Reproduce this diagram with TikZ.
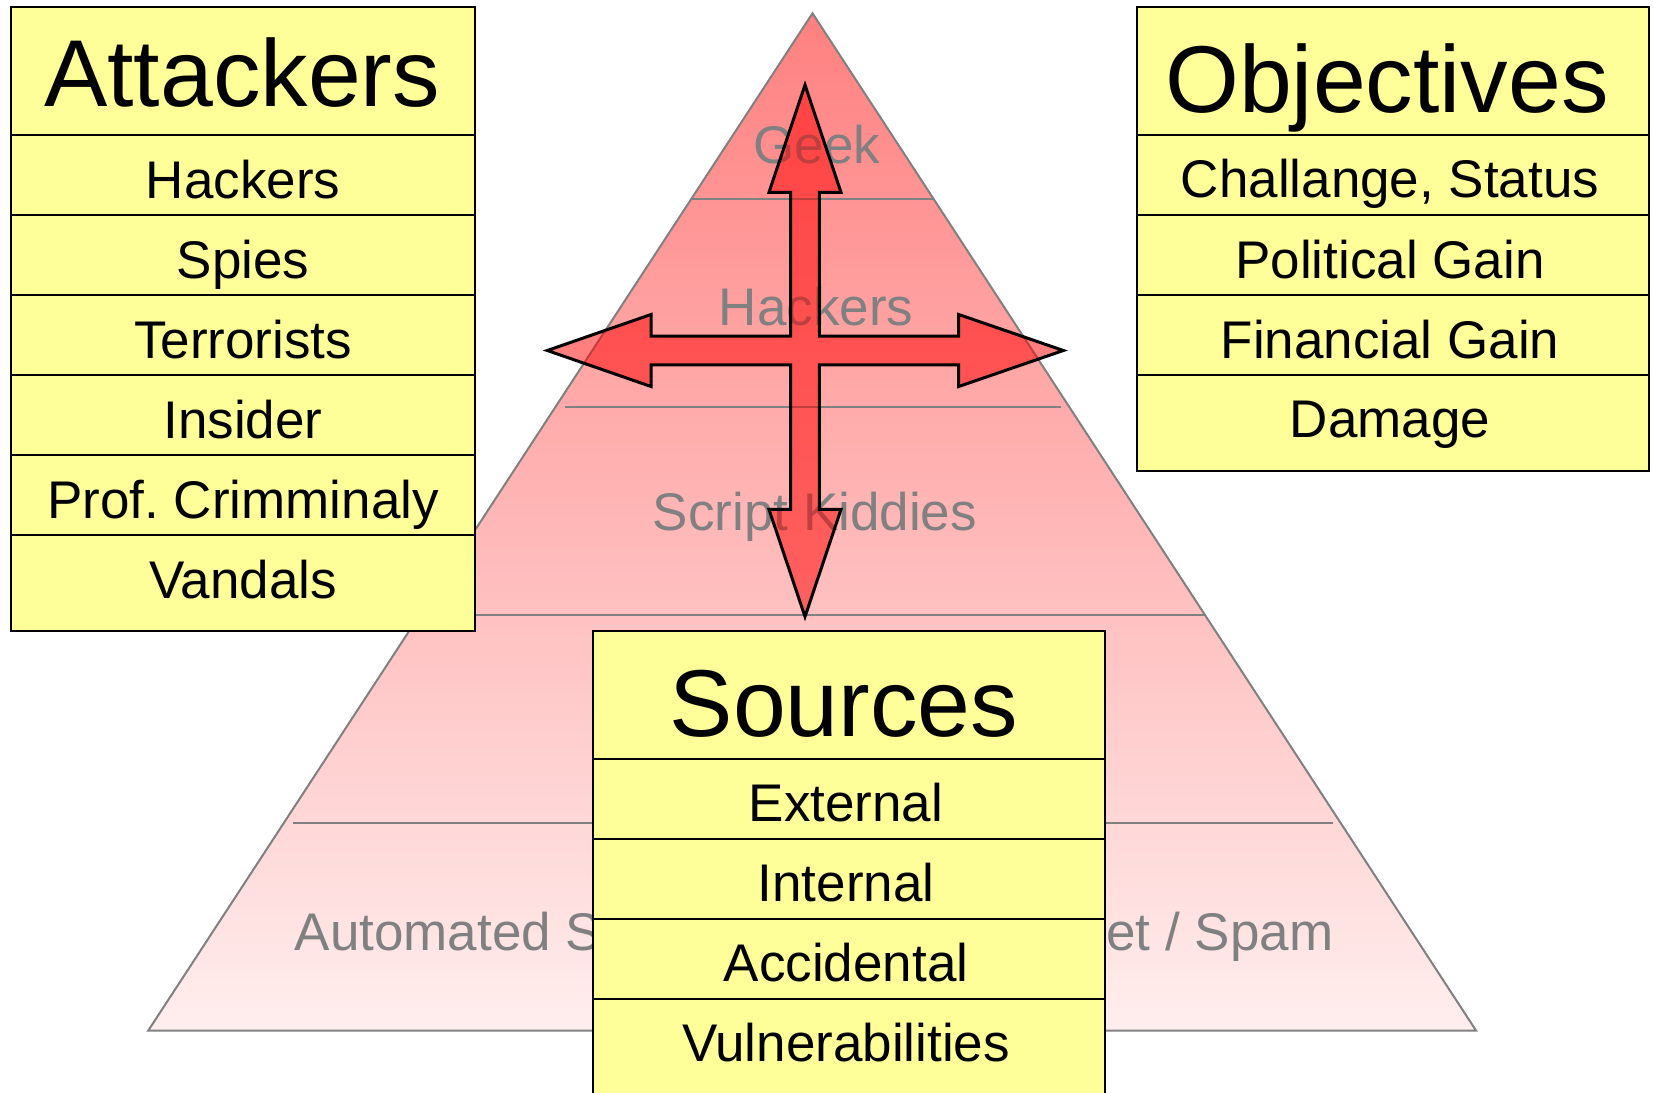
\documentclass[tikz,border=0pt]{standalone}
\usepackage{fontspec}
\setmainfont{Liberation Sans}
\frenchspacing
\definecolor{boxyellow}{RGB}{255,255,153}
\definecolor{pyrgray}{RGB}{128,128,128}
\definecolor{pyrtop}{RGB}{255,128,128}
\definecolor{pyrbot}{RGB}{255,238,238}
\tikzset{
  tablebox/.style={fill=boxyellow, draw=black, line width=1pt},
  rowline/.style={draw=black, line width=1pt},
  titletext/.style={font=\fontsize{47.5pt}{50pt}\selectfont, anchor=base, inner sep=0pt},
  itemtext/.style={font=\fontsize{26.5pt}{30pt}\selectfont, anchor=base, inner sep=0pt},
  leveltext/.style={itemtext, text=pyrgray},
  levelline/.style={draw=pyrgray, line width=1pt},
  crossarrow/.style={fill=red, fill opacity=0.5, draw=black, line width=1.5pt, line join=miter},
}
\begin{document}
\begin{tikzpicture}[x=0.5pt, y=-0.5pt]
\clip (0,0) rectangle (1653,1092);
\fill[white] (0,0) rectangle (1653,1092);

% pyramid
\shade[top color=pyrtop, bottom color=pyrbot, draw=pyrgray, line width=1pt]
  (812.5,13.3) -- (1476,1030.5) -- (148.3,1030.5) -- cycle;
\draw[levelline] (691.5,199) -- (933.5,199);
\draw[levelline] (565,406.7) -- (1061,406.7);
\draw[levelline] (425,614.5) -- (1204.5,614.5);
\draw[levelline] (293,822.7) -- (1332.5,822.7);

\node[leveltext] (lgeek) at (817,163.3) {Geek};
\node[leveltext] (lhack) at (816,325.3) {Hackers};
\node[leveltext] (lscript) at (815,530) {Script Kiddies};
\node[leveltext, anchor=base west] (lautoA) at (294.3,950) {Automated S};
\node[leveltext, anchor=base east] (lautoB) at (1333.6,950) {et / Spam};

% four-way arrow
\filldraw[crossarrow]
  (805,85) -- (841,192.3) -- (819.4,192.3) -- (819.4,336.1)
  -- (958.7,336.1) -- (958.7,314.5) -- (1063.3,350.5) -- (958.7,386.5) -- (958.7,364.9)
  -- (819.4,364.9) -- (819.4,509.4) -- (841,509.4) -- (805,616.7) -- (769,509.4) -- (790.6,509.4)
  -- (790.6,364.9) -- (651,364.9) -- (651,386.5) -- (547.3,350.5) -- (651,314.5) -- (651,336.1)
  -- (790.6,336.1) -- (790.6,192.3) -- (769,192.3) -- cycle;

% Attackers table
\draw[tablebox] (11,7) rectangle (475,630.7);
\foreach \yy in {135,215,295,375,454.5,535} {\draw[rowline] (11,\yy) -- (475,\yy);}
\node[titletext] (atitle) at (242,106) {Attackers};
\node[itemtext] (a1) at (243,198.5) {Hackers};
\node[itemtext] (a2) at (243,278.5) {Spies};
\node[itemtext] (a3) at (243,358.5) {Terrorists};
\node[itemtext] (a4) at (243,438.5) {Insider};
\node[itemtext] (a5) at (243,518.3) {Prof. Crimminaly};
\node[itemtext] (a6) at (243,598.5) {Vandals};

% Objectives table
\draw[tablebox] (1136.7,7) rectangle (1649,470.7);
\foreach \yy in {135,215,295,375} {\draw[rowline] (1136.7,\yy) -- (1649,\yy);}
\node[titletext] (otitle) at (1387,112.5) {Objectives};
\node[itemtext] (o1) at (1390,197) {Challange, Status};
\node[itemtext] (o2) at (1390,278.3) {Political Gain};
\node[itemtext] (o3) at (1390,358.3) {Financial Gain};
\node[itemtext] (o4) at (1390,437.5) {Damage};

% Sources table
\draw[tablebox] (593,631) rectangle (1105.2,1100);
\foreach \yy in {759,839,919,999} {\draw[rowline] (593,\yy) -- (1105.2,\yy);}
\node[titletext] (stitle) at (844,736.7) {Sources};
\node[itemtext] (s1) at (846,821.7) {External};
\node[itemtext] (s2) at (846,901.7) {Internal};
\node[itemtext] (s3) at (846,981.7) {Accidental};
\node[itemtext] (s4) at (846,1061.7) {Vulnerabilities};
\end{tikzpicture}
\end{document}
